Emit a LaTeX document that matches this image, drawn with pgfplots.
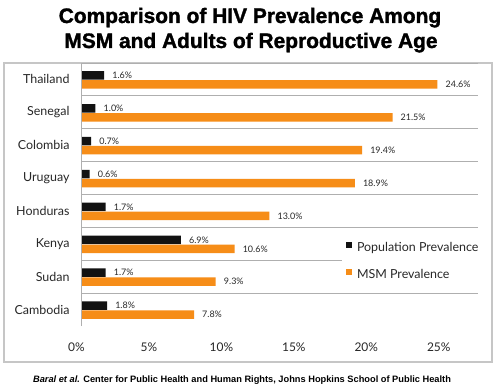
\documentclass[border=0pt]{standalone}
\usepackage{pgfplots}
\pgfplotsset{compat=1.18}
\usepackage{fontspec}
\setmainfont{Lato}
\newfontfamily\arialfont{Liberation Sans}
\newfontfamily\titlefont{Liberation Sans}[BoldFeatures={FakeBold=1.5}]
\definecolor{msm}{RGB}{246,141,24}
\definecolor{barblk}{RGB}{18,18,18}
\definecolor{txt}{RGB}{40,40,40}
\definecolor{gridc}{RGB}{175,175,175}
\begin{document}
\begin{tikzpicture}
\useasboundingbox (0bp,0bp) rectangle (495bp,389bp);
\fill[white] (0bp,0bp) rectangle (495bp,389bp);
\draw[gray!45, line width=1.2bp] (4bp,27bp) rectangle (492bp,326bp);
\node[anchor=base, font=\titlefont\bfseries\fontsize{21}{25}\selectfont] at (250bp,366bp) {Comparison of HIV Prevalence Among};
\node[anchor=base, font=\titlefont\bfseries\fontsize{21}{25}\selectfont] at (251bp,341bp) {MSM and Adults of Reproductive Age};
\node[anchor=base, font=\arialfont\bfseries\fontsize{9.3}{11}\selectfont] at (242bp,7bp) {\textit{Baral et al.} Center for Public Health and Human Rights, Johns Hopkins School of Public Health};
\begin{axis}[
  at={(81bp,63bp)}, anchor=south west, scale only axis,
  width=397bp, height=263bp,
  xbar, bar width=8.5bp,
  xmin=0, xmax=27.4, ymin=-0.5, ymax=7.5,
  axis line style={draw=none},
  major tick length=0, minor tick length=0,
  ytick={0,...,7},
  yticklabels={Cambodia,Sudan,Kenya,Honduras,Uruguay,Colombia,Senegal,Thailand},
  yticklabel style={font=\fontsize{12.5}{14}\selectfont, text=txt, xshift=-8bp},
  minor ytick={0.5,1.5,...,7.5},
  yminorgrids=true,
  minor grid style={gridc, line width=0.8bp},
  xtick={0,5,10,15,20,25},
  xticklabels={0\%,5\%,10\%,15\%,20\%,25\%},
  xticklabel style={font=\fontsize{12}{14}\selectfont, text=txt, yshift=-13bp, xshift=-4.5bp},
  point meta=explicit symbolic,
  nodes near coords,
  nodes near coords style={font=\fontsize{9}{10}\selectfont, text=txt, anchor=west, inner sep=0pt, xshift=8bp},
  legend style={at={(axis description cs:0.657,0.337)}, anchor=north west, draw=none, fill=white,
    font=\fontsize{12.5}{14}\selectfont, text=txt, row sep=12bp, inner xsep=4bp, inner ysep=3bp},
  legend cell align=left,
  clip=false,
]
\addplot[fill=barblk, draw=none, bar shift=4bp,
  legend image code/.code={\fill[barblk] (0bp,-0.5bp) rectangle (6bp,5.5bp); \path (9bp,0bp);}]
  coordinates {(1.8,0) [1.8\%] (1.7,1) [1.7\%] (6.9,2) [6.9\%] (1.7,3) [1.7\%]
               (0.6,4) [0.6\%] (0.7,5) [0.7\%] (1.0,6) [1.0\%] (1.6,7) [1.6\%]};
\addlegendentry{Population Prevalence}
\addplot[fill=msm, draw=none, bar shift=-5bp,
  legend image code/.code={\fill[msm] (0bp,-0.5bp) rectangle (6bp,5.5bp); \path (9bp,0bp);}]
  coordinates {(7.8,0) [7.8\%] (9.3,1) [9.3\%] (10.6,2) [10.6\%] (13.0,3) [13.0\%]
               (18.9,4) [18.9\%] (19.4,5) [19.4\%] (21.5,6) [21.5\%] (24.6,7) [24.6\%]};
\addlegendentry{MSM Prevalence}
\draw[gridc, line width=0.8bp] (rel axis cs:0,0) -- (rel axis cs:0,1);
\end{axis}
\end{tikzpicture}
\end{document}
